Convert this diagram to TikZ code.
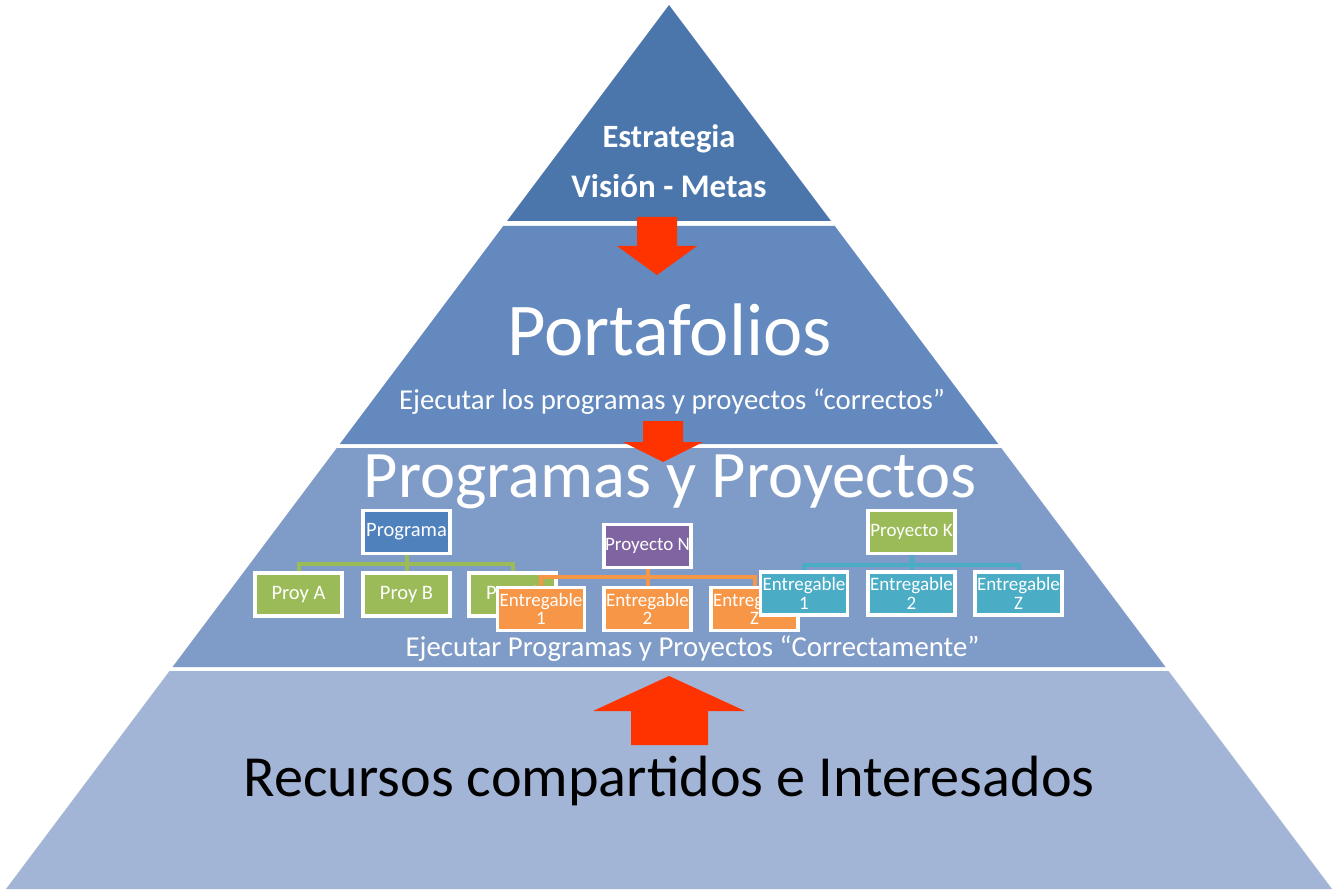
\documentclass[tikz,border=0pt]{standalone}
\usepackage{fontspec}
\setmainfont{Carlito}
\definecolor{layA}{HTML}{4A76AC}
\definecolor{layB}{HTML}{6389BE}
\definecolor{layC}{HTML}{7F9CC8}
\definecolor{layD}{HTML}{A3B5D6}
\definecolor{arrowred}{HTML}{FF3300}
\definecolor{boxblue}{HTML}{4F81BD}
\definecolor{boxgreen}{HTML}{9BBB59}
\definecolor{boxpurple}{HTML}{8064A2}
\definecolor{boxorange}{HTML}{F79646}
\definecolor{boxteal}{HTML}{4BACC6}
\pgfdeclarelayer{bg}
\pgfdeclarelayer{gconn}
\pgfdeclarelayer{gbox}
\pgfdeclarelayer{oconn}
\pgfdeclarelayer{obox}
\pgfdeclarelayer{tconn}
\pgfsetlayers{bg,gconn,gbox,oconn,obox,tconn,main}
\begin{document}
\begin{tikzpicture}[x=1pt,y=-1pt,
  redarrow/.style={fill=arrowred,draw=none},
  box/.style={draw=white,line width=3.5pt,minimum width=87pt,minimum height=43pt,inner sep=0pt,
    text=white,align=center,font=\fontsize{19}{18.5}\selectfont},
  bigbox/.style={box,font=\fontsize{20.5}{20}\selectfont},
  conn/.style={line width=4pt},
  wtxt/.style={text=white,inner sep=0pt,anchor=base}]
\begin{pgfonlayer}{bg}
\useasboundingbox (0,0) rectangle (1338,893);
\fill[white] (0,0) rectangle (1338,893);
% pyramid layers
\fill[layA] (669,5) -- (831,221) -- (507,221) -- cycle;
\fill[layB] (503.25,226) -- (834.75,226) -- (998.25,444) -- (339.75,444) -- cycle;
\fill[layC] (336.75,448) -- (1001.25,448) -- (1165.5,667) -- (172.5,667) -- cycle;
\fill[layD] (169.5,671) -- (1168.5,671) -- (1332,889) -- (6,889) -- cycle;
% red arrows
\fill[redarrow] (637,217) -- (677,217) -- (677,246) -- (697,246) -- (657,275) -- (617,246) -- (637,246) -- cycle;
\fill[redarrow] (643,421) -- (683,421) -- (683,442) -- (703,442) -- (663,462) -- (623,442) -- (643,442) -- cycle;
\fill[redarrow] (669,676) -- (745,711) -- (708,711) -- (708,745) -- (631,745) -- (631,711) -- (593,711) -- cycle;
% texts
\node[wtxt,font=\fontsize{32.5}{32}\selectfont\bfseries] (estr) at (669,148) {Estrategia};
\node[wtxt,font=\fontsize{33}{32}\selectfont\bfseries] (vis) at (669,198) {Visión - Metas};
\node[wtxt,font=\fontsize{74.5}{73}\selectfont] (port) at (669.5,355) {Portafolios};
\node[wtxt,font=\fontsize{28.8}{28}\selectfont] (ejec1) at (672,409) {Ejecutar los programas y proyectos “correctos”};
\node[wtxt,font=\fontsize{66.5}{65}\selectfont] (pyp) at (670,497) {Programas y Proyectos};
\node[wtxt,font=\fontsize{28.8}{28}\selectfont] (ejec2) at (692.5,656) {Ejecutar Programas y Proyectos “Correctamente”};
\node[anchor=base,inner sep=0pt,text=black,font=\fontsize{58.2}{57}\selectfont] (rec) at (669,796) {Recursos compartidos e Interesados};
\end{pgfonlayer}
% green group
\coordinate (gbus) at (406,564);
\begin{pgfonlayer}{gbox}
\node[bigbox,fill=boxblue] (prog) at (406.5,532) {Programa};
\node[bigbox,fill=boxgreen] (pa) at (298.5,594.5) {Proy A};
\node[bigbox,fill=boxgreen] (pb) at (406.5,594.5) {Proy B};
\node[bigbox,fill=boxgreen] (pc) at (512.5,594.5) {Proy C};
\end{pgfonlayer}
\begin{pgfonlayer}{gconn}
\draw[conn,boxgreen] (pa.north) -- (pa.north |- gbus) -- (pc.north |- gbus) -- (pc.north);
\draw[conn,boxgreen] (prog.south) -- (pb.north);
\end{pgfonlayer}
% orange group
\coordinate (obus) at (647.5,577);
\begin{pgfonlayer}{obox}
\node[box,fill=boxpurple] (pn) at (647.5,546) {Proyecto N};
\node[box,fill=boxorange] (n1) at (541,609) {Entregable\\1};
\node[box,fill=boxorange] (n2) at (647.5,609) {Entregable\\2};
\node[box,fill=boxorange] (nz) at (754.5,609) {Entregable\\Z};
\end{pgfonlayer}
\begin{pgfonlayer}{oconn}
\draw[conn,boxorange] (n1.north) -- (n1.north |- obus) -- (nz.north |- obus) -- (nz.north);
\draw[conn,boxorange] (pn.south) -- (n2.north);
\end{pgfonlayer}
% teal group
\coordinate (tbus) at (911.5,565);
\node[box,fill=boxgreen] (pk) at (911.5,532) {Proyecto K};
\node[box,fill=boxteal] (k1) at (804,593.5) {Entregable\\1};
\node[box,fill=boxteal] (k2) at (911.5,593.5) {Entregable\\2};
\node[box,fill=boxteal] (kz) at (1018.5,593.5) {Entregable\\Z};
\begin{pgfonlayer}{tconn}
\draw[conn,boxteal] (k1.north) -- (k1.north |- tbus) -- (kz.north |- tbus) -- (kz.north);
\draw[conn,boxteal] (pk.south) -- (k2.north);
\end{pgfonlayer}
\end{tikzpicture}
\end{document}
